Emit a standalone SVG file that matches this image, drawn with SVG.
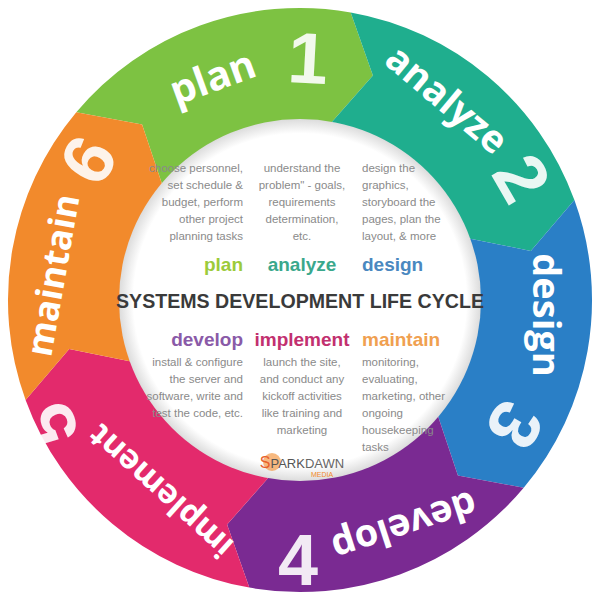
<svg xmlns="http://www.w3.org/2000/svg" width="600" height="600" viewBox="0 0 600 600">
<defs>
<radialGradient id="wg" cx="0.5" cy="0.5" r="0.5">
<stop offset="0.92" stop-color="#ffffff"/><stop offset="1" stop-color="#dcdcdc"/>
</radialGradient>
<style>
.seg{stroke:none}
.rl{font-family:"Open Sans","Liberation Sans",sans-serif;font-weight:bold;fill:#fff;text-anchor:middle;dominant-baseline:central}
.num{font-family:"Liberation Sans",sans-serif;font-weight:bold;fill:#fff;text-anchor:middle;dominant-baseline:central;font-size:72px;opacity:0.9}
.t{font-family:"Liberation Sans",sans-serif;font-size:11.5px;fill:#8a8a8a}
.r{text-anchor:end}.m{text-anchor:middle}.l{text-anchor:start}
.h{font-family:"Liberation Sans",sans-serif;font-size:19px;font-weight:bold}
</style>
</defs>
<rect width="600" height="600" fill="#fff"/>
<g id="plan"><path class="seg" fill="#7dc242" d="M76.3,112.3 A292,292 0 0 1 350.7,12.4 L372.9,75.5 L331.2,122.7 A180,180 0 0 0 162.1,184.3 L142.1,124.6 Z"/>
<text class="rl" font-size="40" transform="translate(212,76) rotate(-20)">plan</text>
<text class="num" transform="translate(308,58) rotate(3)">1</text></g>
<g id="analyze"><path class="seg" fill="#1fae8e" d="M350.7,12.4 A292,292 0 0 1 574.4,200.1 L530.8,250.9 L469.1,238.4 A180,180 0 0 0 331.2,122.7 L372.9,75.5 Z"/>
<text class="rl" font-size="38" transform="translate(448,98) rotate(40)">analyze</text>
<text class="num" transform="translate(522,178) rotate(60)">2</text></g>
<g id="design"><path class="seg" fill="#2a7fc6" d="M574.4,200.1 A292,292 0 0 1 523.7,487.7 L457.9,475.4 L437.9,415.7 A180,180 0 0 0 469.1,238.4 L530.8,250.9 Z"/>
<text class="rl" font-size="38" transform="translate(548,315) rotate(90)">design</text>
<text class="num" transform="translate(515,425) rotate(120)">3</text></g>
<g id="develop"><path class="seg" fill="#7a2a92" d="M523.7,487.7 A292,292 0 0 1 249.3,587.6 L227.1,524.5 L268.8,477.3 A180,180 0 0 0 437.9,415.7 L457.9,475.4 Z"/>
<text class="rl" font-size="38" transform="translate(405,528) rotate(162)">develop</text>
<text class="num" transform="translate(298,560) rotate(0)">4</text></g>
<g id="implement"><path class="seg" fill="#e32a6c" d="M249.3,587.6 A292,292 0 0 1 25.6,399.9 L69.2,349.1 L130.9,361.6 A180,180 0 0 0 268.8,477.3 L227.1,524.5 Z"/>
<text class="rl" font-size="33" transform="translate(160,492) rotate(222)">implement</text>
<text class="num" transform="translate(50,425) rotate(250)">5</text></g>
<g id="maintain"><path class="seg" fill="#f28a2c" d="M25.6,399.9 A292,292 0 0 1 76.3,112.3 L142.1,124.6 L162.1,184.3 A180,180 0 0 0 130.9,361.6 L69.2,349.1 Z"/>
<text class="rl" font-size="36" transform="translate(52,275) rotate(-80)">maintain</text>
<text class="num" transform="translate(88,160) rotate(-60)">6</text></g>
<g id="center">
<circle cx="300" cy="300" r="181" fill="url(#wg)"/>
<text class="t r" x="243" y="172">choose personnel,</text>
<text class="t r" x="243" y="189">set schedule &amp;</text>
<text class="t r" x="243" y="206">budget, perform</text>
<text class="t r" x="243" y="223">other project</text>
<text class="t r" x="243" y="240">planning tasks</text>
<text class="t m" x="302" y="172">understand the</text>
<text class="t m" x="302" y="189">problem" - goals,</text>
<text class="t m" x="302" y="206">requirements</text>
<text class="t m" x="302" y="223">determination,</text>
<text class="t m" x="302" y="240">etc.</text>
<text class="t l" x="362" y="172">design the</text>
<text class="t l" x="362" y="189">graphics,</text>
<text class="t l" x="362" y="206">storyboard the</text>
<text class="t l" x="362" y="223">pages, plan the</text>
<text class="t l" x="362" y="240">layout, &amp; more</text>
<text class="h r" x="243" y="271" fill="#9ccb3b">plan</text>
<text class="h m" x="302" y="271" fill="#3aa88c">analyze</text>
<text class="h l" x="362" y="271" fill="#4a88c0">design</text>
<text x="300" y="308" font-family="'Liberation Sans',sans-serif" font-weight="bold" font-size="21" fill="#3a3a3a" text-anchor="middle" textLength="368" lengthAdjust="spacingAndGlyphs">SYSTEMS DEVELOPMENT LIFE CYCLE</text>
<text class="h r" x="243" y="346" fill="#8a5aa8">develop</text>
<text class="h m" x="302" y="346" fill="#c2306f">implement</text>
<text class="h l" x="362" y="346" fill="#f0a050">maintain</text>
<text class="t r" x="243" y="366">install &amp; configure</text>
<text class="t r" x="243" y="383">the server and</text>
<text class="t r" x="243" y="400">software, write and</text>
<text class="t r" x="243" y="417">test the code, etc.</text>
<text class="t m" x="302" y="366">launch the site,</text>
<text class="t m" x="302" y="383">and conduct any</text>
<text class="t m" x="302" y="400">kickoff activities</text>
<text class="t m" x="302" y="417">like training and</text>
<text class="t m" x="302" y="434">marketing</text>
<text class="t l" x="362" y="366">monitoring,</text>
<text class="t l" x="362" y="383">evaluating,</text>
<text class="t l" x="362" y="400">marketing, other</text>
<text class="t l" x="362" y="417">ongoing</text>
<text class="t l" x="362" y="434">housekeeping</text>
<text class="t l" x="362" y="451">tasks</text>
<circle cx="272" cy="462" r="9" fill="#f28a2c" opacity="0.6"/>
<text x="302" y="468" font-family="'Liberation Sans',sans-serif" font-size="13" fill="#555" text-anchor="middle"><tspan fill="#e8602c" font-size="16">S</tspan>PARK<tspan fill="#666">DAWN</tspan></text>
<text x="322" y="477" font-family="'Liberation Sans',sans-serif" font-size="7" fill="#f28a2c" text-anchor="middle">MEDIA</text>
</g>
</svg>
